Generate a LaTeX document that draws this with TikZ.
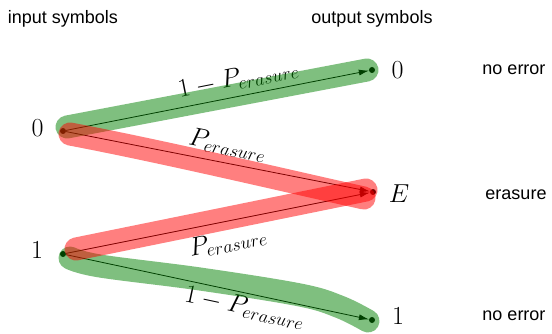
\RequirePackage{fix-cm}
\documentclass[tikz,border=0pt]{standalone}
\usepackage{fontspec}
\newfontfamily\labelfont{Liberation Sans}
\usetikzlibrary{arrows.meta}
\begin{document}
\begin{tikzpicture}[x=1pt,y=-1pt,
  dot/.style={circle,fill=black,inner sep=0pt,minimum size=6pt},
  sym/.style={inner sep=0pt,font=\fontsize{26}{30}\selectfont},
  txt/.style={anchor=base,inner sep=0pt,font=\labelfont\fontsize{18}{21}\selectfont},
  arr/.style={-{Latex[length=10pt,width=6pt]},line width=0.8pt},
  elab/.style={sloped,inner sep=0pt,font=\fontsize{26}{30}\selectfont},
  hlg/.style={draw=green!50!black,opacity=0.5,line width=23pt,line cap=round,line join=round},
  hlr/.style={draw=red,opacity=0.5,line width=23pt,line cap=round,line join=round}]
\useasboundingbox (0,0) rectangle (552,334);

\node[dot] (i0) at (63,131) {};
\node[dot] (i1) at (63,254) {};
\node[dot] (o0) at (372,70) {};
\node[dot] (oE) at (373,192) {};
\node[dot] (o1) at (372,320) {};

\node[txt] (tin) at (63,23.5) {input symbols};
\node[txt] (tout) at (372,23.5) {output symbols};
\node[txt] (n0) at (514,75) {no error};
\node[txt] (ne) at (516,200) {erasure};
\node[txt] (n1) at (514,320) {no error};

\node[sym] (l0) at (37.5,128) {$0$};
\node[sym] (l1) at (37,250) {$1$};
\node[sym] (r0) at (397.5,70.5) {$0$};
\node[sym] (rE) at (399,193.5) {$E$};
\node[sym] (r1) at (398,316.5) {$1$};

\draw[arr] (i0) -- (o0) node[elab,pos=0.58,above=6pt] {$1-P_{erasure}$};
\draw[arr] (i0) -- (oE) node[elab,pos=0.52,above=7pt] {$P_{erasure}$};
\draw[arr] (i1) -- (oE) node[elab,pos=0.52,below=9pt] {$P_{erasure}$};
\draw[arr] (i1) -- (o1) node[elab,pos=0.6,below=3pt] {$1-P_{erasure}$};

\draw[hlg] (67,127) -- (367,70);
\draw[hlg] plot[smooth,tension=0.6] coordinates {(70,258) (100,266) (200,279) (300,295) (340,307) (368,321)};
\draw[hlr] (70,134) .. controls (170,153) and (300,184) .. (364,198);
\draw[hlr] (76,249) -- (366,190);
\end{tikzpicture}
\end{document}
